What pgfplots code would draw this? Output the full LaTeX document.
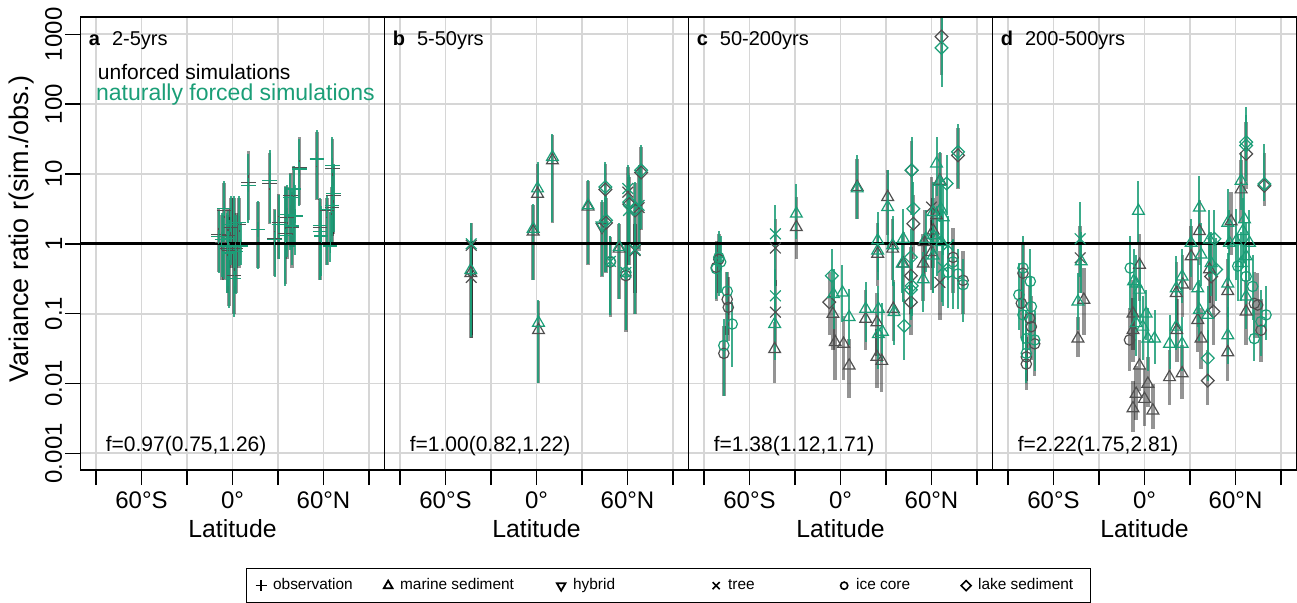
\documentclass[border=0pt]{standalone}
\usepackage{fontspec}
\setmainfont{Liberation Sans}
\usepackage{pgfplots}
\usepackage{pgfplotstable}
\pgfplotsset{compat=1.18}
\definecolor{fgreen}{RGB}{27,158,119}
\definecolor{umark}{RGB}{80,80,80}

\pgfdeclareplotmark{itri}{%
  \pgfpathmoveto{\pgfqpointpolar{-90}{\pgfplotmarksize}}%
  \pgfpathlineto{\pgfqpointpolar{30}{\pgfplotmarksize}}%
  \pgfpathlineto{\pgfqpointpolar{150}{\pgfplotmarksize}}%
  \pgfpathclose\pgfusepathqstroke}
\pgfdeclareplotmark{rdia}{%
  \pgfpathmoveto{\pgfqpoint{0pt}{\pgfplotmarksize}}%
  \pgfpathlineto{\pgfqpoint{\pgfplotmarksize}{0pt}}%
  \pgfpathlineto{\pgfqpoint{0pt}{-\pgfplotmarksize}}%
  \pgfpathlineto{\pgfqpoint{-\pgfplotmarksize}{0pt}}%
  \pgfpathclose\pgfusepathqstroke}

% lat, median ratio, lower and upper end of the bar, proxy type
% panel a, 2-5yrs
\pgfplotstableread{
lat y lo hi t
-9.2 1.35 0.4 3.3 obs
-7.0 1.05 0.3 2.6 obs
-5.5 3.0 0.3 7.5 obs
-3.3 0.85 0.2 2.6 obs
-3.0 1.3 0.3 3.2 obs
-2.2 0.8 0.13 2.4 obs
-1.1 1.7 0.45 4.5 obs
1.1 0.35 0.1 4.5 obs
2.2 0.85 0.2 2.8 obs
4.4 1.9 0.45 4.6 obs
10.5 7.6 2.2 21 obs
16.8 1.6 0.45 4.0 obs
24.4 7.4 1.9 20 obs
27.7 1.2 0.35 3.2 obs
30.5 2.0 0.6 5.2 obs
34.9 1.4 0.27 6.8 obs
36.0 2.4 0.6 6.5 obs
38.2 4.9 0.9 10.5 obs
39.3 1.7 0.45 5.5 obs
40.4 6.0 0.9 13 obs
44.1 12.4 3.6 34 obs
55.6 16 4.2 40 obs
57.8 1.7 0.3 4.4 obs
62.2 3.0 0.5 4.6 obs
65.9 12 1.3 32 obs
66.6 4.9 1.4 13 obs
65.5 3.3 1.0 6.5 obs
}\ag
\pgfplotstableread{
lat y lo hi t
-9.2 1.26 0.38 3.1 obs
-7.0 1.15 0.34 2.8 obs
-5.5 3.2 0.31 8.0 obs
-3.3 0.93 0.20 2.8 obs
-3.0 1.2 0.25 3.0 obs
-2.2 0.74 0.12 2.2 obs
-1.1 1.9 0.5 4.9 obs
1.1 0.32 0.09 4.9 obs
2.2 0.78 0.19 2.6 obs
4.4 2.0 0.48 4.9 obs
5.5 0.93 0.5 2.0 obs
10.5 6.9 2.0 19.4 obs
16.8 1.6 0.43 4.1 obs
24.4 8.0 2.0 21.7 obs
27.7 1.15 0.34 3.1 obs
30.5 1.9 0.6 5.0 obs
34.9 1.3 0.25 6.5 obs
36.0 2.6 0.64 7.0 obs
38.2 4.6 0.82 10 obs
39.3 1.8 0.49 6.0 obs
40.4 6.1 0.9 13 obs
41.5 2.5 0.7 7 obs
44.1 11.8 3.5 32 obs
55.6 16.4 4.4 42 obs
57.8 1.84 0.3 4.6 obs
57.8 1.52 0.3 4.0 obs
58.5 1.29 0.35 3.5 obs
62.2 3.1 0.5 4.8 obs
64.4 0.93 0.55 2.9 obs
65.5 3.5 1.0 7 obs
65.9 13.2 1.4 34 obs
66.6 5.3 1.5 14 obs
}\an
% panel b, 5-50yrs
\pgfplotstableread{
lat y lo hi t
-43.0 0.95 0.05 2.0 tree
-43.0 0.33 0.045 1.1 tree
-43.3 0.38 0.045 1.1 mar
-2.2 1.5 0.3 3.6 mar
0.7 5.2 1.4 14 mar
1.3 0.058 0.0103 0.15 mar
10.5 15.7 2.0 36 mar
34.0 3.4 0.5 8 mar
43.2 1.75 0.33 4.0 hyb
45.4 6.0 0.4 14 lake
45.8 2.0 0.38 4.6 lake
48.7 0.55 0.09 1.25 ice
54.5 0.85 0.16 1.9 mar
58.9 0.35 0.055 1.0 ice
60.2 5.5 1.0 12.5 tree
61.1 3.7 0.5 9 lake
65.0 3.0 0.1 7.4 lake
65.0 0.8 0.2 1.9 tree
67.6 3.3 0.8 12.5 tree
69.0 10.5 1.6 24 lake
}\bg
\pgfplotstableread{
lat y lo hi t
-43.0 1.0 0.047 2.0 tree
-43.3 0.42 0.05 1.2 mar
-2.2 1.64 0.30 3.75 mar
0.7 6.2 1.5 14.8 mar
1.3 0.074 0.0103 0.158 mar
10.5 17.5 2.05 37.8 mar
34.0 3.55 0.52 8.1 mar
43.2 1.83 0.35 4.2 hyb
45.4 6.5 0.4 14.8 lake
45.8 2.16 0.39 4.9 lake
48.7 0.56 0.096 1.3 ice
48.7 0.56 0.096 1.3 tree
54.5 0.9 0.16 2.0 mar
58.9 0.39 0.059 1.06 ice
58.9 0.39 0.059 1.06 tree
60.2 6.2 1.06 13.3 tree
61.1 3.96 0.55 9.6 lake
60.7 3.0 0.5 8 tree
65.0 3.2 0.1 7.7 lake
65.0 0.83 0.2 2.0 tree
67.6 3.55 0.85 13.3 tree
69.0 11.3 1.64 25.7 lake
}\bn
% panel c, 50-200yrs
\pgfplotstableread{
lat y lo hi t
-80.2 0.6 0.2 1.4 ice
-81.9 0.46 0.15 1.1 ice
-74.7 0.16 0.05 0.4 ice
-74.0 0.123 0.04 0.33 ice
-76.9 0.027 0.0067 0.067 ice
-42.9 0.87 0.25 2.3 tree
-42.9 0.105 0.035 0.3 tree
-43.4 0.031 0.0103 0.075 mar
-29.1 1.73 0.61 4.67 mar
-7.4 0.146 0.05 0.4 lake
-5.0 0.099 0.03 0.3 mar
-3.5 0.039 0.0114 0.093 mar
2.0 0.037 0.0114 0.093 mar
5.7 0.018 0.0063 0.043 mar
11.0 6.5 2.3 16.6 mar
16.6 0.084 0.03 0.22 mar
24.5 0.72 0.25 2.0 mar
24.0 0.075 0.025 0.2 mar
24.0 0.024 0.0086 0.06 mar
27.2 0.021 0.0075 0.054 mar
31.1 4.67 1.32 11.3 mar
34.4 0.85 0.3 2.3 mar
34.8 0.117 0.04 0.3 mar
41.4 0.52 0.15 1.5 mar
46.9 11.3 2.55 30 lake
48.0 1.94 0.6 5.0 lake
46.4 0.35 0.1 0.9 lake
46.4 0.146 0.05 0.4 lake
54.5 0.52 0.15 1.4 mar
55.2 1.06 0.35 3.0 mar
66.6 925 260 1700 lake
77.5 18.5 6 45 lake
60.0 3.36 1.0 9 tree
61.1 1.55 0.45 4.5 mar
60.0 0.76 0.22 2.2 mar
65.5 0.28 0.08 0.8 tree
74.2 0.64 0.2 1.7 ice
80.8 0.3 0.1 0.8 ice
63.3 2.55 0.8 7 mar
65.5 8.0 2.5 20 mar
}\cg
\pgfplotstableread{
lat y lo hi t
-80.2 0.64 0.18 1.55 ice
-81.9 0.44 0.16 1.06 ice
-79.0 0.55 0.2 1.3 ice
-74.7 0.21 0.039 0.39 ice
-71.4 0.071 0.017 0.146 ice
-76.9 0.035 0.0067 0.084 ice
-42.9 1.39 0.25 3.55 tree
-42.9 0.18 0.067 0.44 tree
-43.4 0.071 0.022 0.16 mar
-29.1 2.7 1.18 7.3 mar
-5.7 0.35 0.117 0.85 lake
-4.6 0.19 0.06 0.44 mar
1.3 0.2 0.075 0.49 mar
5.7 0.089 0.035 0.226 mar
11.0 6.2 2.3 18.5 mar
16.6 0.117 0.039 0.28 mar
24.5 1.12 0.39 2.85 mar
24.5 0.8 0.3 2.0 mar
25.0 0.117 0.043 0.25 mar
25.0 0.051 0.016 0.117 mar
27.6 0.055 0.02 0.14 mar
31.1 3.36 0.85 11.3 mar
34.4 0.95 0.25 2.5 mar
35.3 0.105 0.035 0.28 mar
41.4 1.18 0.146 3.2 mar
40.7 0.52 0.2 1.3 mar
42.0 0.067 0.022 0.16 lake
46.9 11.3 2.55 34 lake
48.0 3.18 1.06 7.7 lake
46.4 0.64 0.18 1.64 lake
46.9 0.25 0.093 0.61 lake
46.4 0.22 0.08 0.55 lake
54.5 0.31 0.105 0.76 mar
56.1 1.18 0.4 3.0 mar
66.6 640 177 1700 lake
63.3 14.1 4.9 34 mar
65.5 7.7 2.04 20.7 mar
69.9 7.3 2.55 18.5 lake
77.5 20.7 6.2 52 lake
61.1 2.85 0.85 7.7 mar
66.1 3.18 1.0 8.5 mar
67.7 2.4 0.7 7 mar
61.1 1.32 0.2 3.2 mar
63.3 1.18 0.35 3.5 mar
66.6 1.06 0.146 3.2 mar
61.1 0.68 0.2 2.0 mar
71.0 0.95 0.3 2.5 tree
67.7 0.46 0.13 1.06 tree
71.0 0.39 0.12 1.0 ice
74.2 0.55 0.117 1.18 ice
77.5 0.37 0.117 0.85 ice
80.8 0.26 0.075 0.61 ice
}\cn
% panel d, 200-500yrs
\pgfplotstableread{
lat y lo hi t
-81.2 0.141 0.045 0.4 ice
-75.7 0.086 0.03 0.25 ice
-74.6 0.065 0.022 0.18 ice
-72.4 0.037 0.013 0.1 ice
-77.9 0.024 0.011 0.047 ice
-77.9 0.019 0.008 0.05 ice
-80.1 0.38 0.12 1.0 ice
-42.4 0.63 0.2 1.8 tree
-40.0 0.158 0.05 0.45 mar
-43.9 0.044 0.024 0.09 mar
-3.3 0.5 0.15 1.4 mar
-7.6 0.1 0.03 0.3 mar
-7.6 0.058 0.02 0.17 mar
-9.9 0.042 0.015 0.12 ice
-3.3 0.018 0.0079 0.042 mar
2.2 0.0099 0.0046 0.024 mar
-5.5 0.0071 0.003 0.018 mar
0.0 0.006 0.0025 0.016 mar
-7.6 0.0044 0.002 0.011 mar
5.5 0.0041 0.0022 0.0099 mar
16.5 0.0123 0.005 0.03 mar
21.3 0.058 0.02 0.16 mar
20.9 0.197 0.065 0.55 mar
25.2 0.26 0.09 0.7 mar
24.8 0.014 0.006 0.035 mar
30.7 0.66 0.22 1.8 mar
36.2 1.52 0.5 4.3 mar
35.1 0.081 0.028 0.22 mar
37.3 0.044 0.016 0.12 mar
43.9 0.34 0.12 0.95 lake
45.4 0.107 0.035 0.3 lake
41.7 0.011 0.005 0.03 lake
57.1 2.1 0.7 5.5 mar
54.9 0.21 0.07 0.6 mar
54.9 0.028 0.011 0.07 mar
67.0 19.4 6 55 lake
72.4 0.14 0.045 0.4 ice
67.0 0.107 0.035 0.3 mar
74.6 0.133 0.045 0.38 ice
76.8 0.058 0.02 0.16 ice
63.7 6.0 2 16 mar
42.8 0.43 0.14 1.2 mar
79.0 6.8 3.5 20 lake
}\dg
\pgfplotstableread{
lat y lo hi t
-80.1 0.45 0.037 1.29 ice
-82.8 0.186 0.058 0.53 ice
-75.3 0.29 0.03 0.83 ice
-80.1 0.096 0.03 0.3 ice
-74.6 0.126 0.04 0.35 ice
-77.9 0.044 0.014 0.113 ice
-72.4 0.042 0.015 0.11 ice
-77.9 0.027 0.01 0.07 ice
-42.4 1.18 0.34 4.0 tree
-41.7 0.56 0.2 1.5 mar
-43.9 0.149 0.058 0.38 mar
-4.0 2.96 1.03 8.0 mar
-9.4 0.45 0.113 1.29 ice
-7.2 0.29 0.081 0.83 mar
-5.5 0.27 0.08 0.7 mar
-3.3 0.22 0.07 0.6 mar
1.1 0.1 0.042 0.22 mar
-5.5 0.073 0.025 0.2 mar
-1.1 0.065 0.022 0.18 mar
2.2 0.044 0.015 0.12 mar
6.6 0.044 0.019 0.113 mar
16.5 0.037 0.016 0.096 mar
20.9 0.065 0.03 0.158 mar
20.9 0.23 0.081 0.66 mar
24.8 0.34 0.14 0.83 mar
24.8 0.037 0.015 0.09 mar
30.7 1.03 0.34 2.24 mar
36.2 3.3 1.03 9.4 mar
37.3 0.7 0.25 2.0 mar
35.1 0.23 0.065 0.6 mar
36.2 0.113 0.04 0.3 mar
42.8 1.15 0.34 3.1 mar
46.1 1.18 0.4 3.0 lake
43.9 0.53 0.18 1.5 mar
47.2 0.43 0.15 1.2 lake
41.7 0.096 0.03 0.25 mar
41.7 0.023 0.011 0.058 lake
54.9 2.0 0.83 6.1 mar
54.9 0.27 0.09 0.74 mar
54.9 0.049 0.019 0.126 mar
63.7 8.0 3.1 20.5 mar
67.0 28.6 9.5 91 lake
67.0 25.6 8 70 lake
79.0 7.2 4.1 27 lake
56.0 1.03 0.3 3.0 mar
60.4 1.09 0.3 3.2 mar
65.9 2.24 0.53 6.8 mar
64.8 1.52 0.45 4.5 mar
61.5 0.48 0.15 1.4 ice
67.0 0.34 0.1 1.0 ice
71.3 0.245 0.08 0.7 ice
67.0 0.176 0.06 0.5 mar
76.8 0.077 0.025 0.22 ice
80.1 0.096 0.042 0.245 ice
72.4 0.044 0.021 0.113 ice
63.7 0.53 0.15 1.5 mar
67.0 0.66 0.2 2.0 mar
69.2 1.03 0.3 3.0 mar
}\dn

% the y axis is drawn in decades: log10 of the ratio
\pgfplotsset{
  panel/.style={
    width=152pt, height=226.5pt, scale only axis,
    xmin=-100.2, xmax=100.2, ymin=-3.239, ymax=3.248,
    xtick={-90,-60,...,90}, xticklabels={,60°S,,0°,,60°N,},
    ytick={-3,-2,-1,0,1,2,3},
    tick align=outside, major tick length=7.5pt,
    xtick pos=lower, ytick pos=left,
    grid=major, grid style={line width=0.9pt, draw=black!16},
    axis line style={line width=0.7pt},
    tick style={line width=0.7pt, black},
    ticklabel style={font=\fontsize{12}{14}\selectfont},
    xlabel={Latitude},
    xlabel style={at={(axis description cs:0.5,-0.150)}, anchor=base,
      font=\fontsize{12.4}{14}\selectfont},
  },
  gmarks/.style={forget plot, only marks, scatter, point meta=explicit symbolic,
    mark options={line width=0.6pt},
    scatter/classes={
      obs={mark=+, mark size=3.6pt, draw=#1},
      mar={mark=triangle, mark size=3.4pt, draw=#1},
      hyb={mark=itri, mark size=3.4pt, draw=#1},
      tree={mark=x, mark size=3.8pt, draw=#1},
      ice={mark=o, mark size=2.6pt, draw=#1},
      lake={mark=rdia, mark size=3.2pt, draw=#1}}},
  bars/.style={forget plot, draw=none, mark=none,
    error bars/y dir=both, error bars/y explicit, error bars/error mark=none,
    error bars/error bar style={#1}},
  legend image code/.code={\path[draw=none, fill=none] (0pt,-2pt) rectangle (7pt,2pt);
    \draw[#1] plot coordinates {(3.5pt,0pt)};},
}
\newcommand{\barsu}[1]{%
  \addplot[bars={line width=1.7pt, draw=black, opacity=0.42}] table[x=lat,
    y expr=log10(\thisrow{y}),
    y error plus expr={log10(\thisrow{hi})-log10(\thisrow{y})},
    y error minus expr={log10(\thisrow{y})-log10(\thisrow{lo})}] {#1};}
\newcommand{\barsn}[1]{%
  \addplot[bars={line width=1pt, draw=fgreen, opacity=0.85}] table[x=lat,
    y expr=log10(\thisrow{y}),
    y error plus expr={log10(\thisrow{hi})-log10(\thisrow{y})},
    y error minus expr={log10(\thisrow{y})-log10(\thisrow{lo})}] {#1};}
\newcommand{\addmarks}[2]{%
  \addplot[gmarks=#1] table[x=lat, y expr=log10(\thisrow{y}), meta=t] {#2};}
\newcommand{\unity}{\addplot[forget plot, black, line width=1.5pt]
  coordinates {(-100.2,0) (100.2,0)};}
\tikzset{plab/.style={anchor=base west, inner sep=0pt,
  font=\fontsize{10}{12}\selectfont}}

\begin{document}
\begin{tikzpicture}
\begin{axis}[panel, at={(0pt,0pt)}, anchor=south west,
  yticklabels={0.001,0.01,0.1,1,10,100,1000},
  yticklabel style={rotate=90, anchor=south, inner sep=1.5pt},
  ylabel={Variance ratio r(sim./obs.)},
  ylabel style={at={(axis description cs:-0.194,0.532)}, anchor=center,
    font=\fontsize{13.5}{15}\selectfont},
  legend style={at={(axis description cs:0.543,-0.2163)}, anchor=north west,
    draw=black, line width=0.6pt, legend columns=6,
    font=\fontsize{7.7}{9}\selectfont, inner xsep=4pt, inner ysep=5pt,
    nodes={inner sep=0pt},
    /tikz/every odd column/.style={column sep=2.5pt},
    /tikz/every even column/.style={column sep=0pt}},
]
\barsu{\ag}
\addmarks{umark}{\ag}
\barsn{\an}
\addmarks{fgreen}{\an}
\unity
\addlegendimage{only marks, mark=+, mark size=2.8pt, black, line width=0.8pt}
\addlegendentry{\makebox[54pt][l]{observation}}
\addlegendimage{only marks, mark=triangle, mark size=2.5pt, black, line width=0.9pt}
\addlegendentry{\makebox[77pt][l]{marine sediment}}
\addlegendimage{only marks, mark=itri, mark size=2.5pt, black, line width=0.9pt}
\addlegendentry{\makebox[68pt][l]{hybrid}}
\addlegendimage{only marks, mark=x, mark size=2.5pt, black, line width=0.8pt}
\addlegendentry{\makebox[54.5pt][l]{tree}}
\addlegendimage{only marks, mark=o, mark size=1.8pt, black, line width=0.8pt}
\addlegendentry{\makebox[51.5pt][l]{ice core}}
\addlegendimage{only marks, mark=rdia, mark size=2.5pt, black, line width=0.8pt}
\addlegendentry{\makebox[52pt][l]{lake sediment}}
\node[plab] at (axis description cs:0.026,0.938) {\textbf{a}\hspace{6pt}2-5yrs};
\node[plab, font=\fontsize{10.5}{12}\selectfont] at (axis description cs:0.056,0.863) {unforced simulations};
\node[plab, font=\fontsize{11.5}{13}\selectfont, text=fgreen] at (axis description cs:0.050,0.815) {naturally forced simulations};
\node[plab, font=\fontsize{10.5}{12}\selectfont] at (axis description cs:0.082,0.040) {f=0.97(0.75,1.26)};
\end{axis}

\begin{axis}[panel, at={(152pt,0pt)}, anchor=south west,
  yticklabels={}, ytick style={draw=none}]
\barsu{\bg}
\addmarks{umark}{\bg}
\barsn{\bn}
\addmarks{fgreen}{\bn}
\unity
\node[plab] at (axis description cs:0.026,0.938) {\textbf{b}\hspace{6pt}5-50yrs};
\node[plab, font=\fontsize{10.5}{12}\selectfont] at (axis description cs:0.082,0.040) {f=1.00(0.82,1.22)};
\end{axis}

\begin{axis}[panel, at={(304pt,0pt)}, anchor=south west,
  yticklabels={}, ytick style={draw=none}]
\barsu{\cg}
\addmarks{umark}{\cg}
\barsn{\cn}
\addmarks{fgreen}{\cn}
\unity
\node[plab] at (axis description cs:0.026,0.938) {\textbf{c}\hspace{6pt}50-200yrs};
\node[plab, font=\fontsize{10.5}{12}\selectfont] at (axis description cs:0.082,0.040) {f=1.38(1.12,1.71)};
\end{axis}

\begin{axis}[panel, at={(456pt,0pt)}, anchor=south west,
  yticklabels={}, ytick style={draw=none}]
\barsu{\dg}
\addmarks{umark}{\dg}
\barsn{\dn}
\addmarks{fgreen}{\dn}
\unity
\node[plab] at (axis description cs:0.026,0.938) {\textbf{d}\hspace{6pt}200-500yrs};
\node[plab, font=\fontsize{10.5}{12}\selectfont] at (axis description cs:0.082,0.040) {f=2.22(1.75,2.81)};
\end{axis}
\pgfresetboundingbox
\useasboundingbox (-40.25pt,-66pt) rectangle (608.25pt,235pt);
\end{tikzpicture}
\end{document}
